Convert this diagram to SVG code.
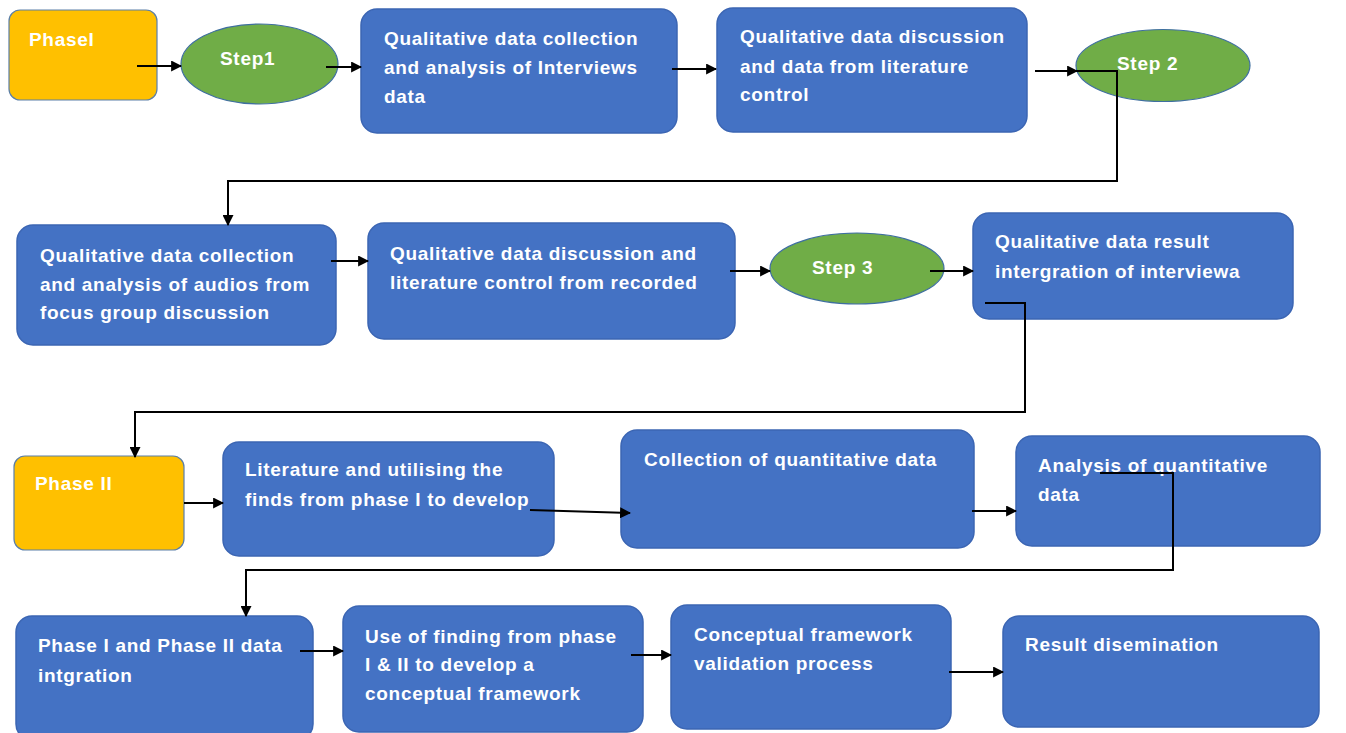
<svg xmlns="http://www.w3.org/2000/svg" width="1346" height="733" viewBox="0 0 1346 733">
<defs>
<style>
.box{fill:#4472C4;stroke:#3B65B3;stroke-width:1.5}
.ph{fill:#FFC000;stroke:#5B7FA8;stroke-width:1.2}
.st{fill:#70AD47;stroke:#3F6FA0;stroke-width:1.2}
.t{font-family:"Liberation Sans",Arial,sans-serif;font-size:19px;font-weight:bold;letter-spacing:0.7px;fill:#FFFFFF}
.c{fill:none;stroke:#000;stroke-width:2}
</style>
<marker id="ah" viewBox="0 0 10 10" refX="9" refY="5" markerWidth="5.5" markerHeight="5.5" orient="auto" markerUnits="strokeWidth">
<path d="M0,0 L10,5 L0,10 z" fill="#000"/>
</marker>
</defs>
<rect width="1346" height="733" fill="#FFFFFF"/>

<g id="phase1"><rect class="ph" x="9" y="10" width="148" height="90" rx="11"/><text class="t" x="29" y="46">PhaseI</text></g>
<g id="step1"><ellipse class="st" cx="259.5" cy="64" rx="78.5" ry="40"/><text class="t" x="220" y="65">Step1</text></g>
<g id="n1"><rect class="box" x="361" y="9" width="316" height="124" rx="16"/><text class="t" x="384" y="45">Qualitative data collection</text><text class="t" x="384" y="74">and analysis of Interviews</text><text class="t" x="384" y="103">data</text></g>
<g id="n2"><rect class="box" x="717" y="8" width="310" height="124" rx="16"/><text class="t" x="740" y="43">Qualitative data discussion</text><text class="t" x="740" y="73">and data from literature</text><text class="t" x="740" y="101">control</text></g>
<g id="step2"><ellipse class="st" cx="1163" cy="65.5" rx="87" ry="36"/><text class="t" x="1117" y="70">Step 2</text></g>

<g id="n3"><rect class="box" x="17" y="225" width="319" height="120" rx="16"/><text class="t" x="40" y="262">Qualitative data collection</text><text class="t" x="40" y="291">and analysis of audios from</text><text class="t" x="40" y="319">focus group discussion</text></g>
<g id="n4"><rect class="box" x="368" y="223" width="367" height="116" rx="16"/><text class="t" x="390" y="260">Qualitative data discussion and</text><text class="t" x="390" y="289">literature control from recorded</text></g>
<g id="step3"><ellipse class="st" cx="857" cy="268.5" rx="87" ry="35.5"/><text class="t" x="812" y="274">Step 3</text></g>
<g id="n5"><rect class="box" x="973" y="213" width="320" height="106" rx="16"/><text class="t" x="995" y="248">Qualitative data result</text><text class="t" x="995" y="278">intergration of interviewa</text></g>

<g id="phase2"><rect class="ph" x="14" y="456" width="170" height="94" rx="11"/><text class="t" x="35" y="490">Phase II</text></g>
<g id="n6"><rect class="box" x="223" y="442" width="331" height="114" rx="16"/><text class="t" x="245" y="476">Literature and utilising the</text><text class="t" x="245" y="506">finds from phase I to develop</text></g>
<g id="n7"><rect class="box" x="621" y="430" width="353" height="118" rx="16"/><text class="t" x="644" y="466">Collection of quantitative data</text></g>
<g id="n8"><rect class="box" x="1016" y="436" width="304" height="110" rx="16"/><text class="t" x="1038" y="472">Analysis of quantitative</text><text class="t" x="1038" y="501">data</text></g>

<g id="n9"><rect class="box" x="16" y="616" width="297" height="124" rx="16"/><text class="t" x="38" y="652">Phase I and Phase II data</text><text class="t" x="38" y="682">intgration</text></g>
<g id="n10"><rect class="box" x="343" y="606" width="300" height="126" rx="16"/><text class="t" x="365" y="643">Use of finding from phase</text><text class="t" x="365" y="671">I &amp; II to develop a</text><text class="t" x="365" y="700">conceptual framework</text></g>
<g id="n11"><rect class="box" x="671" y="605" width="280" height="124" rx="16"/><text class="t" x="694" y="641">Conceptual framework</text><text class="t" x="694" y="670">validation process</text></g>
<g id="n12"><rect class="box" x="1003" y="616" width="316" height="111" rx="16"/><text class="t" x="1025" y="651">Result disemination</text></g>

<g id="connectors">
<line class="c" x1="137" y1="66" x2="181" y2="66" marker-end="url(#ah)"/>
<line class="c" x1="326" y1="67" x2="361" y2="67" marker-end="url(#ah)"/>
<line class="c" x1="672" y1="69" x2="716" y2="69" marker-end="url(#ah)"/>
<line class="c" x1="1035" y1="71" x2="1077" y2="71" marker-end="url(#ah)"/>
<polyline class="c" points="1077,71 1117,71 1117,181 228,181 228,225" marker-end="url(#ah)"/>
<line class="c" x1="331" y1="261" x2="368" y2="261" marker-end="url(#ah)"/>
<line class="c" x1="730" y1="271" x2="770" y2="271" marker-end="url(#ah)"/>
<line class="c" x1="930" y1="271" x2="973" y2="271" marker-end="url(#ah)"/>
<polyline class="c" points="985,303 1025,303 1025,412 135,412 135,457" marker-end="url(#ah)"/>
<line class="c" x1="184" y1="503" x2="223" y2="503" marker-end="url(#ah)"/>
<line class="c" x1="530" y1="510" x2="630" y2="513" marker-end="url(#ah)"/>
<line class="c" x1="972" y1="511" x2="1016" y2="511" marker-end="url(#ah)"/>
<polyline class="c" points="1100,473 1173,473 1173,570 246,570 246,616" marker-end="url(#ah)"/>
<line class="c" x1="300" y1="651" x2="343" y2="651" marker-end="url(#ah)"/>
<line class="c" x1="631" y1="655" x2="671" y2="655" marker-end="url(#ah)"/>
<line class="c" x1="949" y1="672" x2="1003" y2="672" marker-end="url(#ah)"/>
</g>
</svg>
